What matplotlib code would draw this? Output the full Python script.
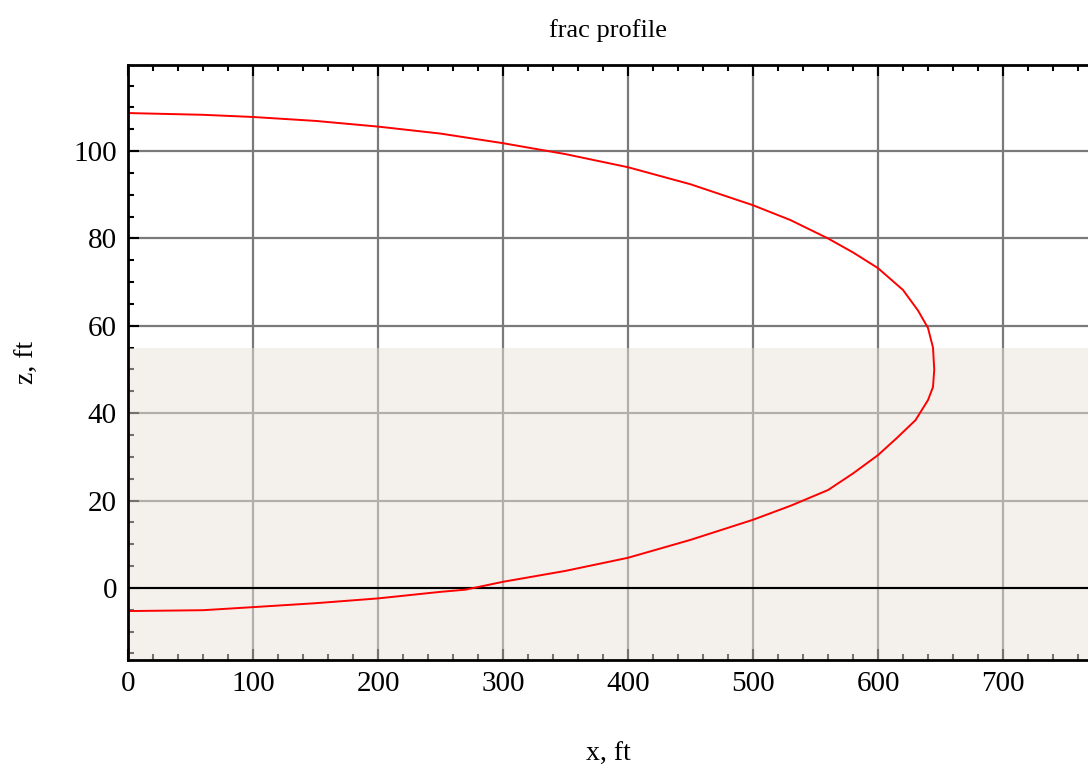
import matplotlib
matplotlib.use("Agg")
import matplotlib.pyplot as plt
from matplotlib.ticker import MultipleLocator

# frac profile: outline (upper branch then lower branch)
x_ft = [0, 60, 100, 150, 200, 250, 300, 350, 400, 450, 500, 530, 560, 580, 600,
        620, 632, 640, 644, 645, 644, 640, 630, 615, 600, 580, 560, 530, 500,
        450, 400, 350, 300, 270, 250, 200, 150, 100, 60, 0]
z_ft = [108.7, 108.3, 107.8, 106.9, 105.6, 104.0, 101.8, 99.3, 96.3, 92.4, 87.6,
        84.2, 80.0, 76.8, 73.2, 68.2, 63.5, 59.5, 55.0, 50.0, 46.0, 43.0, 38.4,
        34.3, 30.4, 26.2, 22.4, 18.8, 15.6, 11.0, 6.9, 3.9, 1.4, -0.4, -0.9,
        -2.4, -3.5, -4.4, -5.1, -5.3]
pay_top, pay_bot = 55, -17

plt.rcParams["font.family"] = ["Liberation Serif", "DejaVu Serif"]

fig = plt.figure(figsize=(10.88, 7.72), dpi=100)
ax = fig.add_axes([128/1088, 1 - 660/772, 1 - 128/1088, (660 - 65)/772])

ax.set_axisbelow(True)
ax.grid(True, which="major", color="#7a7a7a", lw=1.6)
ax.axhspan(pay_bot, pay_top, color="#ebe3d9", alpha=0.5, lw=0, zorder=1)
ax.axhline(0, color="black", lw=1.5, zorder=2)
ax.plot(x_ft, z_ft, color="#ff0000", lw=1.4, zorder=3)

ax.set_xlim(0, 768)
ax.set_ylim(-16.5, 119.7)
ax.xaxis.set_major_locator(MultipleLocator(100))
ax.xaxis.set_minor_locator(MultipleLocator(20))
ax.yaxis.set_major_locator(MultipleLocator(20))
ax.yaxis.set_minor_locator(MultipleLocator(5))
ax.tick_params(which="both", direction="in", top=True, right=False, width=1.5,
               labelsize=21, pad=8)
ax.tick_params(which="major", length=8)
ax.tick_params(which="minor", length=4)
for s in ["left", "bottom", "top"]:
    ax.spines[s].set_linewidth(2)
    ax.spines[s].set_zorder(4)
ax.spines["right"].set_visible(False)

ax.set_title("frac profile", fontsize=19, pad=20)
ax.set_xlabel("x, ft", fontsize=20, labelpad=32)
ax.set_ylabel("z, ft", fontsize=20, labelpad=24)

fig.savefig("out.png", dpi=100)
